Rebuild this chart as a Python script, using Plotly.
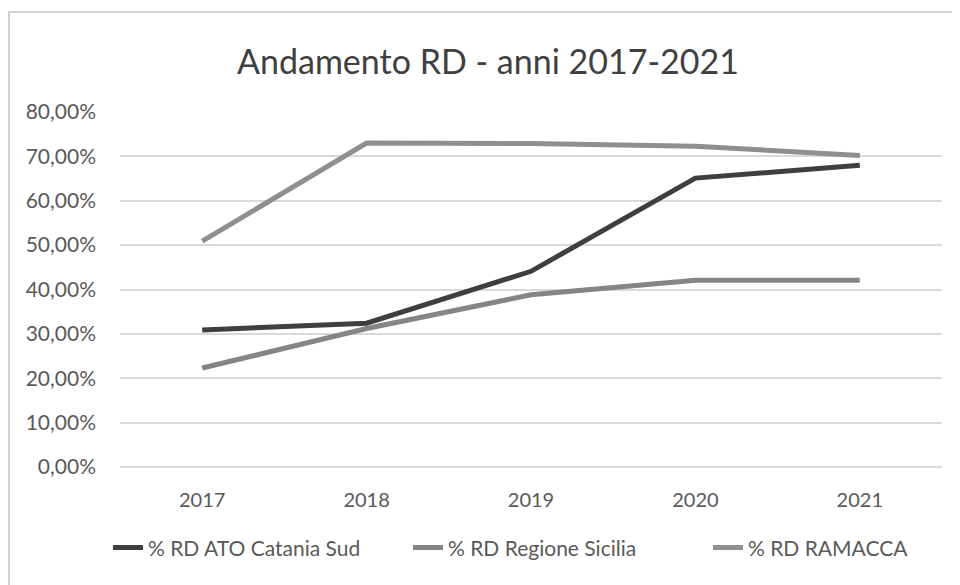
import plotly.graph_objects as go

years = ["2017", "2018", "2019", "2020", "2021"]
ato_catania_sud = [0.309, 0.324, 0.441, 0.651, 0.680]
regione_sicilia = [0.223, 0.312, 0.388, 0.421, 0.421]
ramacca = [0.509, 0.730, 0.729, 0.723, 0.702]
y_ticks = [0, 0.1, 0.2, 0.3, 0.4, 0.5, 0.6, 0.7, 0.8]

FONT = "Lato"
TXT = "#595959"

fig = go.Figure()
fig.add_trace(go.Scatter(x=years, y=ato_catania_sud, mode="lines", name="% RD ATO Catania Sud",
                         line=dict(color="#3f3f3f", width=5)))
fig.add_trace(go.Scatter(x=years, y=regione_sicilia, mode="lines", name="% RD Regione Sicilia",
                         line=dict(color="#858585", width=5)))
fig.add_trace(go.Scatter(x=years, y=ramacca, mode="lines", name="% RD RAMACCA",
                         line=dict(color="#8f8f8f", width=5)))

fig.update_layout(
    width=960, height=585,
    paper_bgcolor="white", plot_bgcolor="white",
    separators=",.",
    margin=dict(l=112, r=26, t=104, b=126, autoexpand=False),
    title=dict(text="Andamento RD - anni 2017-2021", x=0.5, xanchor="center",
               y=0.907, yanchor="middle",
               font=dict(family=FONT, size=34, color="#404040")),
    font=dict(family=FONT, size=20, color=TXT),
    showlegend=True,
    legend=dict(orientation="h", x=-0.0146, xanchor="left", y=-0.228, yanchor="middle",
                font=dict(family=FONT, size=21, color=TXT), itemwidth=30,
                entrywidth=255, tracegroupgap=0),
    xaxis=dict(type="category", range=[-0.5, 4.5], showgrid=False, showline=False, ticks="",
               ticklabelstandoff=19, automargin=False,
               tickfont=dict(family=FONT, size=20, color=TXT)),
    yaxis=dict(range=[0, 0.8], tickvals=y_ticks, tickformat=".2%",
               showgrid=True, gridcolor="#d9d9d9", gridwidth=1.5,
               zeroline=True, zerolinecolor="#d9d9d9", zerolinewidth=1.5,
               showline=False, ticks="", ticklabelstandoff=23, automargin=False,
               tickfont=dict(family=FONT, size=21, color=TXT)),
    shapes=[dict(type="rect", xref="paper", yref="paper",
                 x0=(1 - 112) / 822, x1=1.05, y0=-0.4, y1=(459 - 4) / 355,
                 line=dict(color="#d0d0d0", width=2), fillcolor="rgba(0,0,0,0)")],
)

fig.write_html("out.html")
